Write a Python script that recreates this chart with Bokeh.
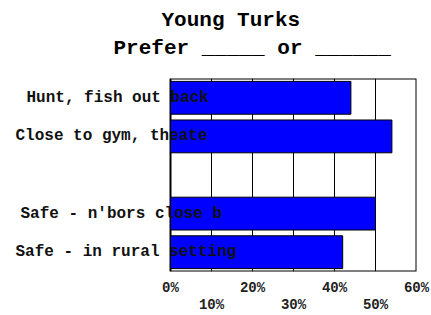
from bokeh.plotting import figure
from bokeh.models import (ColumnDataSource, FactorRange, LabelSet, Title, BoxAnnotation,
                          LinearAxis, FixedTicker, Range1d, CustomJSTickFormatter)
from bokeh.core.properties import value
from bokeh.embed import file_html
from bokeh.resources import INLINE

# ---- data ----
categories = ["Hunt, fish out back", "Close to gym, theate", " ",
              "Safe - n'bors close b", "Safe - in rural setting"]
values = [44, 54, None, 50, 42]
x_min, x_max = 0, 60
ticks_even = [0, 20, 40, 60]
ticks_odd = [10, 30, 50]
title_line1 = "Young Turks"
title_line2 = "Prefer _____ or ______"

# ---- style / layout ----
FONT = "Liberation Mono"
AXIS_LEFT_PX = 170      # where 0% sits on the canvas
AXIS_WIDTH_PX = 246     # 0%..60%
label_dx = [-144, -155, -150, -155]  # label start relative to 0% (px)

factors = list(reversed(categories))
bar_cats = [c for c, v in zip(categories, values) if v is not None]
bar_vals = [v for v in values if v is not None]

src = ColumnDataSource(dict(cat=bar_cats, val=bar_vals, dx=label_dx,
                            zero=[x_min] * len(bar_cats)))

# frame extends left over the label area so the labels can overlap the bars
x_start = x_min - (x_max - x_min) * AXIS_LEFT_PX / AXIS_WIDTH_PX

p = figure(width=431, height=315, output_backend="svg", toolbar_location=None,
           y_range=FactorRange(factors=factors),
           x_range=Range1d(x_start, x_max),
           min_border_left=0, min_border_right=431 - AXIS_LEFT_PX - AXIS_WIDTH_PX,
           min_border_top=78, min_border_bottom=30, x_axis_location=None)
p.y_range.range_padding = 0
p.yaxis.visible = False
p.ygrid.grid_line_color = None
p.xgrid.ticker = FixedTicker(ticks=list(range(x_min, x_max + 1, 10)))
p.xgrid.grid_line_color = "black"
p.xgrid.grid_line_alpha = 1
p.xgrid.grid_line_width = 1
p.outline_line_color = None
p.background_fill_color = "white"
p.border_fill_color = "white"

p.add_layout(BoxAnnotation(left=x_min, right=x_max, fill_alpha=0,
                           line_color="black", line_width=2, line_alpha=1,
                           level="underlay"))

p.hbar(y="cat", left=x_min, right="val", height=0.85, source=src,
       fill_color="#0000FF", line_color="black", line_width=1)

p.add_layout(LabelSet(x="zero", y="cat", text="cat", x_offset="dx", source=src,
                      text_font=value(FONT), text_font_style="bold",
                      text_font_size="16px", text_align="left",
                      text_baseline="middle", text_color="#111111"))

fmt = CustomJSTickFormatter(code="return tick + '%';")
for tks, standoff in ((ticks_even, 8), (ticks_odd, -2)):
    ax = LinearAxis(ticker=FixedTicker(ticks=tks), formatter=fmt)
    ax.axis_line_color = None
    ax.major_tick_line_color = None
    ax.minor_tick_line_color = None
    ax.major_tick_out = 0
    ax.major_tick_in = 0
    ax.major_label_standoff = standoff
    ax.major_label_text_font = FONT
    ax.major_label_text_font_style = "bold"
    ax.major_label_text_font_size = "14px"
    ax.major_label_text_color = "#222222"
    p.add_layout(ax, "below")

# spacer between frame and title lines
p.add_layout(Title(text=" ", text_font_size="1px", standoff=13), "above")
for txt, off, so in ((title_line2, 113, 6), (title_line1, 161, 0)):
    p.add_layout(Title(text=txt, align="left", offset=off, standoff=so,
                       text_font=FONT, text_font_style="bold",
                       text_font_size="21px", text_color="black"), "above")

open("out.html", "w").write(file_html(p, INLINE))
